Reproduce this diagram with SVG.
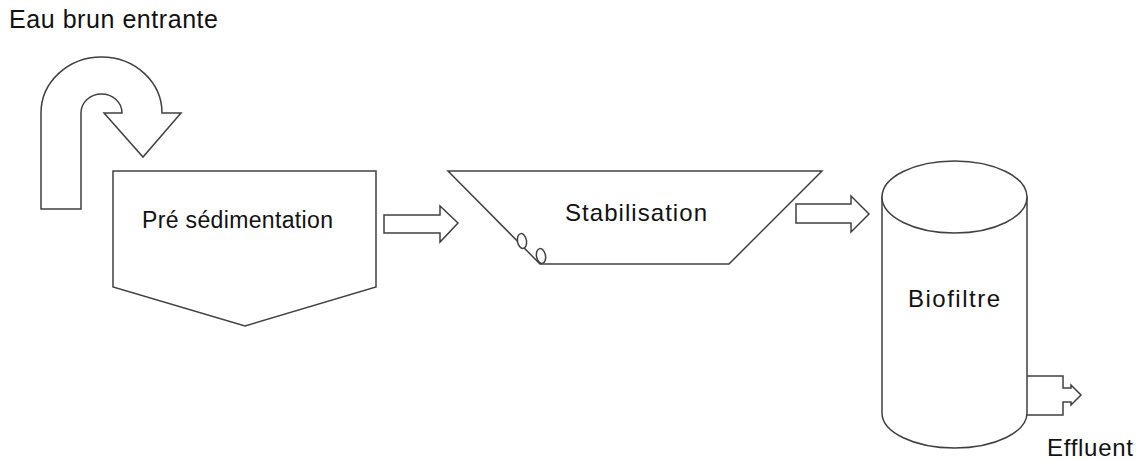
<svg xmlns="http://www.w3.org/2000/svg" width="1143" height="461" viewBox="0 0 1143 461">
<style>
.s{fill:#fff;stroke:#404040;stroke-width:1.5;stroke-linejoin:miter}
.n{fill:none;stroke:#404040;stroke-width:1.5}
.t{font-family:"Liberation Sans",Arial,sans-serif;fill:#111;}
</style>
<rect width="1143" height="461" fill="#fff"/>
<g id="inlet">
<path class="s" d="M41,209 L41,113 A60.5,56 0 0 1 162,113 L181,113 L143,157 L104,113 L122,113 A20.5,19 0 0 0 81,113 L81,209 Z"/>
<text class="t" x="9" y="28" font-size="25" textLength="209">Eau brun entrante</text>
</g>
<g id="presedimentation">
<path class="s" d="M113,171 L376,171 L376,287 L245,326 L113,287 Z"/>
<text class="t" x="142" y="228" font-size="23" textLength="191">Pré sédimentation</text>
</g>
<g id="stabilisation">
<path class="s" d="M448,171 L822,171 L729,264 L540,264 Z"/>
<ellipse class="s" cx="522" cy="241" rx="4.5" ry="7.5" transform="rotate(-10 522 241)"/>
<ellipse class="s" cx="541" cy="256" rx="4.5" ry="7.5" transform="rotate(-10 541 256)"/>
<text class="t" x="565" y="221" font-size="24" textLength="142">Stabilisation</text>
</g>
<g id="biofiltre">
<path class="s" d="M882,197 L882,413 A72.5,35 0 0 0 1027,413 L1027,197 Z"/>
<ellipse class="s" cx="954.5" cy="197" rx="72.5" ry="36"/>
<text class="t" x="908" y="307" font-size="24" textLength="92">Biofiltre</text>
</g>
<g id="effluent">
<path class="n" d="M1027,376 L1063,376 L1063,388 L1071,388 L1071,385 L1081,395 L1071,405 L1071,402 L1063,402 L1063,415 L1027,415"/>
<text class="t" x="1047" y="456" font-size="24" textLength="86">Effluent</text>
</g>
<g id="connectors">
<path class="s" d="M384,215 L440,215 L440,206 L458,223 L440,242 L440,233 L384,233 Z"/>
<path class="s" d="M796,204 L851,204 L851,196 L869,214 L851,232 L851,223 L796,223 Z"/>
</g>
</svg>
